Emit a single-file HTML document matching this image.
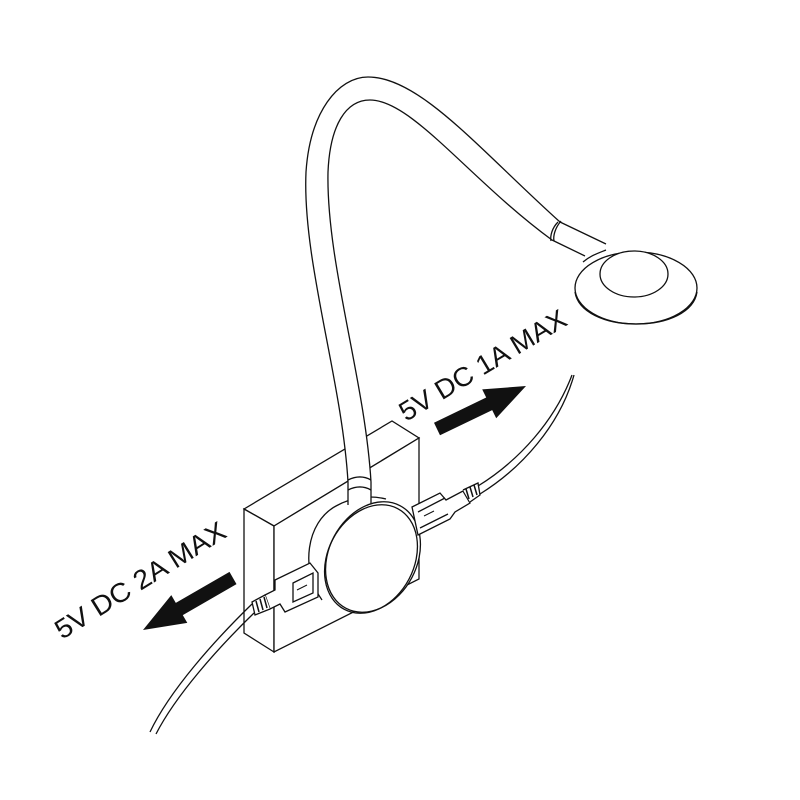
<!DOCTYPE html>
<html><head><style>html,body{margin:0;background:#fff}svg{display:block}</style></head>
<body>
<svg width="800" height="800" viewBox="0 0 800 800" xmlns="http://www.w3.org/2000/svg" fill="none" stroke="#111" stroke-width="1.3">
<!-- box -->
<path d="M244,509 L392,421 L419,438 L274,526 Z" fill="#fff"/>
<path d="M244,509 L274,526 L274,652 L244,633 Z" fill="#fff"/>
<path d="M274,526 L419,438 L419,579 L274,652 Z" fill="#fff"/>
<!-- back circle -->
<path d="M322,600 C300,570 306,522 336,506 C352,497 370,495 386,499"/>
<!-- gooseneck -->
<path d="M348,505 L348,482 C342,380 302,260 306,172 C310,112 338,77 368,77 C420,77 480,150 560,222 L606,244 L585,256 L552,240 C470,180 412,100 370,100 C346,100 330,125 328,172 C326,262 365,380 371,482 L371,505 Z" fill="#fff" stroke="none"/>
<path d="M348,505 L348,482 C342,380 302,260 306,172 C310,112 338,77 368,77 C420,77 480,150 560,222"/>
<path d="M371,505 L371,482 C365,380 326,262 328,172 C330,125 346,100 370,100 C412,100 470,180 552,240"/>
<path d="M348,480 C356,476 364,476 371,480 M348,490 C356,486 364,486 371,490"/>
<!-- cuff near lamp -->
<path d="M560,222 L606,244 M552,240 L585,256"/>
<path d="M558,222 C552,228 550,236 551,241 M561,221 C555,228 553,236 554,241"/>
<!-- lamp head -->
<ellipse cx="636" cy="288" rx="61" ry="36" fill="#fff"/>
<path d="M575,292 C578,312 605,324 636,324 C668,324 694,312 697,292"/>
<ellipse cx="634" cy="274" rx="34" ry="23" fill="#fff"/>
<path d="M583,262 C590,256 596,254 606,250"/>
<!-- disc -->
<ellipse cx="373" cy="557" rx="44" ry="58" transform="rotate(28 373 557)" fill="#fff"/>
<ellipse cx="371" cy="559" rx="43" ry="57" transform="rotate(28 371 559)"/>
<!-- right usb plug -->
<path d="M412,507 L440,493 L446,500 L463,491 L470,503 L455,512 L450,519 L418,535 Z" fill="#fff"/>
<path d="M418,512 L445,498 M420,528 L448,514"/>
<path d="M424,516 l10,-5" stroke-width="1"/>
<path d="M463,490 L478,483 L480,495 L470,502" fill="#fff"/>
<path d="M466,489 l3,10 M470,487 l3,10 M474,485 l3,10" stroke-width="1.5"/>
<path d="M478,486 C520,460 555,420 572,375"/>
<path d="M480,494 C522,468 560,425 574,375"/>
<!-- left usb plug -->
<path d="M275,580 L310,563 L318,573 L318,597 L285,612 L280,604 L270,609 L265,595 L275,590 Z" fill="#fff"/>
<path d="M293,583 L313,573 L313,593 L293,602 Z"/>
<path d="M297,590 l10,-5" stroke-width="1"/>
<path d="M265,595 L252,602 L255,615 L270,609" fill="#fff"/>
<path d="M256,601 l3,11 M260,599 l3,11 M264,597 l3,11" stroke-width="1.5"/>
<path d="M252,604 C215,640 170,690 150,732"/>
<path d="M254,613 C218,648 176,695 156,734"/>
<!-- arrows -->
<polygon points="440,435.3 492.2,410.1 496.2,418.2 526,386 482.2,389.4 486.2,397.5 434,422.7" fill="#111" stroke="none"/>
<polygon points="236.5,584.1 182.8,615.1 187.3,622.9 143,630 171.3,595.1 175.8,602.9 229.5,571.9" fill="#111" stroke="none"/>
<!-- text -->
<text x="406" y="422" transform="rotate(-31 406 422)" font-family="Liberation Sans, sans-serif" font-size="27" textLength="190" lengthAdjust="spacingAndGlyphs" fill="#111" stroke="none">5V DC 1A MAX</text>
<text x="62" y="640" transform="rotate(-32 62 640)" font-family="Liberation Sans, sans-serif" font-size="27" textLength="196" lengthAdjust="spacingAndGlyphs" fill="#111" stroke="none">5V DC 2A MAX</text>
</svg>
</body></html>
